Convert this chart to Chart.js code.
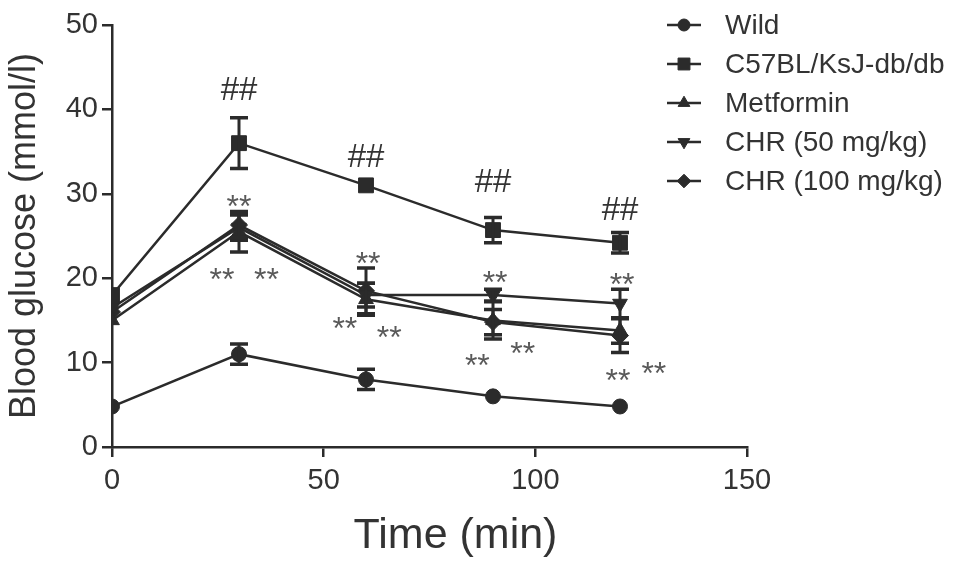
<!DOCTYPE html>
<html>
<head>
<meta charset="utf-8">
<script src="https://cdn.jsdelivr.net/npm/chart.js@4.4.1/dist/chart.umd.min.js"></script>
<style>
  html, body { margin: 0; padding: 0; background: #fff; }
  #wrap { width: 969px; height: 568px; }
</style>
</head>
<body>
<div id="wrap"><canvas id="glucoseChart"></canvas></div>
<script>
// Zeitpunkte (min)
const times = [0, 30, 60, 90, 120];

// Blutzucker-Mittelwerte (mmol/l) je Gruppe
const wild = [4.8, 11, 8, 6, 4.8];
const dbdb = [18, 36, 31, 25.7, 24.2];
const metformin = [15, 25.5, 17.5, 15, 13.8];
const chr50 = [16.5, 26, 18, 18, 17];
const chr100 = [16, 26.3, 18.5, 14.8, 13.2];

// Fehlerbalken (SD), 0 = hinter dem Symbol versteckt
const wildErr = [0, 1.2, 1.2, 0, 0];
const dbdbErr = [0, 3, 0, 1.5, 1.2];
const metforminErr = [0, 2.4, 1.9, 2.2, 1.5];
const chr50Err = [0, 1.5, 1.4, 0.7, 1.7];
const chr100Err = [0, 1.5, 2.7, 1.5, 2];

const seriesNames = ['Wild', 'C57BL/KsJ-db/db', 'Metformin', 'CHR (50 mg/kg)', 'CHR (100 mg/kg)'];

// Achsen
const xTicks = [0, 50, 100, 150];
const yTicks = [0, 10, 20, 30, 40, 50];
const xTitle = 'Time (min)';
const yTitle = 'Blood glucose (mmol/l)';

// Signifikanz-Markierungen (Text, x, y in Datenkoordinaten)
const hashMarks = [
  ['##', 30, 42.5], ['##', 60, 34.6], ['##', 90, 31.6], ['##', 120, 28.3]
];
const starMarks = [
  ['**', 30, 29.4], ['**', 26, 20.8], ['**', 36.5, 20.8],
  ['**', 60.5, 22.6], ['**', 55, 15], ['**', 65.5, 13.9],
  ['**', 90.5, 20.4], ['**', 86.3, 10.6], ['**', 97, 12],
  ['**', 120.5, 20.2], ['**', 119.5, 8.8], ['**', 128, 9.6]
];

const ink = '#2b2b2b';
const fontFamily = '"Liberation Sans", Arial, sans-serif';
const styles = [
  { pointStyle: 'circle', radius: 7.5, rotation: 0 },
  { pointStyle: 'rect', radius: 10.5, rotation: 0 },
  { pointStyle: 'triangle', radius: 8.5, rotation: 0 },
  { pointStyle: 'triangle', radius: 8.5, rotation: 180 },
  { pointStyle: 'rectRot', radius: 8.5, rotation: 0 }
];
const allValues = [wild, dbdb, metformin, chr50, chr100];
const allErrors = [wildErr, dbdbErr, metforminErr, chr50Err, chr100Err];

function toPoints(values) {
  return times.map((t, i) => ({ x: t, y: values[i] }));
}

const datasets = allValues.map((vals, i) => ({
  label: seriesNames[i],
  data: toPoints(vals),
  borderColor: ink,
  backgroundColor: ink,
  borderWidth: 2.5,
  pointStyle: styles[i].pointStyle,
  pointRadius: styles[i].radius,
  pointRotation: styles[i].rotation,
  pointBackgroundColor: ink,
  pointBorderColor: ink,
  pointBorderWidth: 1,
  tension: 0
}));

// Fehlerbalken zeichnen
const errorBarPlugin = {
  id: 'errorBars',
  afterDatasetsDraw(chart) {
    const ctx = chart.ctx;
    const yScale = chart.scales.y;
    ctx.save();
    ctx.strokeStyle = ink;
    chart.data.datasets.forEach((ds, di) => {
      const meta = chart.getDatasetMeta(di);
      meta.data.forEach((pt, i) => {
        const v = allValues[di][i];
        const e = allErrors[di][i];
        if (!e) return;
        const top = yScale.getPixelForValue(v + e);
        const bot = yScale.getPixelForValue(v - e);
        ctx.lineWidth = 3;
        ctx.beginPath();
        ctx.moveTo(pt.x, top);
        ctx.lineTo(pt.x, bot);
        ctx.stroke();
        ctx.lineWidth = 3.5;
        ctx.beginPath();
        ctx.moveTo(pt.x - 9, top);
        ctx.lineTo(pt.x + 9, top);
        ctx.moveTo(pt.x - 9, bot);
        ctx.lineTo(pt.x + 9, bot);
        ctx.stroke();
      });
    });
    ctx.restore();
  }
};

// ## und ** Beschriftungen, dazu der x-Achsentitel
const marksPlugin = {
  id: 'marks',
  afterDraw(chart) {
    const ctx = chart.ctx;
    const xs = chart.scales.x, ys = chart.scales.y;
    ctx.save();
    ctx.textAlign = 'center';
    ctx.textBaseline = 'alphabetic';
    ctx.font = '33px ' + fontFamily;
    ctx.fillStyle = '#333';
    hashMarks.forEach(([t, x, y]) => {
      ctx.fillText(t, xs.getPixelForValue(x), ys.getPixelForValue(y) + 0.35 * 33);
    });
    ctx.font = '32px ' + fontFamily;
    ctx.fillStyle = '#5a5a5a';
    starMarks.forEach(([t, x, y]) => {
      ctx.fillText(t, xs.getPixelForValue(x), ys.getPixelForValue(y) + 0.57 * 32);
    });
    // Achsentitel leicht rechts der Mitte wie im Original
    ctx.font = '43px ' + fontFamily;
    ctx.fillStyle = '#333';
    ctx.fillText(xTitle, (chart.chartArea.left + chart.chartArea.right) / 2 + 26, chart.chartArea.bottom + 101);
    ctx.restore();
  }
};

// Legende rechts oben
const legendPlugin = {
  id: 'sideLegend',
  afterDraw(chart) {
    const ctx = chart.ctx;
    const area = chart.chartArea;
    const x0 = area.right - 80;
    ctx.save();
    ctx.font = '28px ' + fontFamily;
    ctx.textBaseline = 'middle';
    ctx.textAlign = 'left';
    seriesNames.forEach((name, i) => {
      const y = area.top + i * 39;
      ctx.strokeStyle = ink;
      ctx.fillStyle = ink;
      ctx.lineWidth = 2.5;
      ctx.beginPath();
      ctx.moveTo(x0, y);
      ctx.lineTo(x0 + 34, y);
      ctx.stroke();
      ctx.lineWidth = 1;
      Chart.helpers.drawPoint(ctx, {
        pointStyle: styles[i].pointStyle,
        radius: styles[i].radius * 0.8,
        rotation: styles[i].rotation,
        borderWidth: 1
      }, x0 + 17, y);
      ctx.fillStyle = '#333';
      ctx.fillText(name, x0 + 58, y + 1);
    });
    ctx.restore();
  }
};

const ctx = document.getElementById('glucoseChart').getContext('2d');
new Chart(ctx, {
  type: 'line',
  data: { datasets: datasets },
  options: {
    responsive: true,
    maintainAspectRatio: false,
    animation: false,
    layout: { padding: { top: 25, right: 222, left: 0, bottom: 0 } },
    plugins: { legend: { display: false }, tooltip: { enabled: false } },
    scales: {
      x: {
        type: 'linear',
        min: 0,
        max: 150,
        afterBuildTicks: s => { s.ticks = xTicks.map(v => ({ value: v })); },
        afterFit: s => { s.height = 121; },
        grid: { drawOnChartArea: false, drawTicks: true, tickLength: 10, color: ink, lineWidth: 2.5 },
        border: { color: ink, width: 2.5 },
        ticks: { color: '#333', padding: 7, font: { size: 29, family: fontFamily } },
        title: { display: false }
      },
      y: {
        min: 0,
        max: 50,
        afterBuildTicks: s => { s.ticks = yTicks.map(v => ({ value: v })); },
        afterFit: s => { s.width = 112; },
        grid: { drawOnChartArea: false, drawTicks: true, tickLength: 10, color: ink, lineWidth: 2.5 },
        border: { color: ink, width: 2.5 },
        ticks: { color: '#333', padding: 4, font: { size: 29, family: fontFamily } },
        title: {
          display: true,
          text: yTitle,
          color: '#333',
          padding: { top: 3 },
          font: { size: 36, family: fontFamily }
        }
      }
    }
  },
  plugins: [errorBarPlugin, marksPlugin, legendPlugin]
});
</script>
</body>
</html>
